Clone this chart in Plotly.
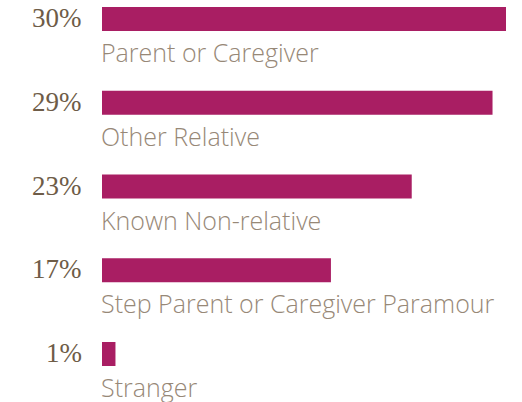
import plotly.graph_objects as go

categories = ["Parent or Caregiver", "Other Relative", "Known Non-relative",
              "Step Parent or Caregiver Paramour", "Stranger"]
values = [30, 29, 23, 17, 1]
pct_labels = [f"{v}%" for v in values]

pos = list(range(len(categories)))
px_per_unit = 83.75
bar_w = 24 / px_per_unit

fig = go.Figure(go.Bar(
    x=values, y=pos, orientation="h", width=bar_w,
    marker=dict(color="#a91e63", line=dict(width=0)),
    hoverinfo="skip",
))

annotations = []
for i, (c, p) in enumerate(zip(categories, pct_labels)):
    annotations.append(dict(
        x=0, y=i + 33 / px_per_unit, xref="x", yref="y", text=c,
        showarrow=False, xanchor="left", yanchor="middle", borderpad=0,
        font=dict(family="Open Sans", size=25, color="#978877", weight=300), xshift=-2,
    ))
    annotations.append(dict(
        x=0, y=i, xref="x", yref="y", text=p,
        showarrow=False, xanchor="right", yanchor="middle", borderpad=0,
        font=dict(family="Liberation Serif", size=27, color="#6e5c47"),
        xshift=-19, yshift=1,
    ))

fig.update_layout(
    width=522, height=402,
    margin=dict(l=102, r=16, t=0, b=0),
    paper_bgcolor="white", plot_bgcolor="white",
    xaxis=dict(range=[0, 30], visible=False, fixedrange=True),
    yaxis=dict(range=[4 + 48 / px_per_unit, -19 / px_per_unit], visible=False, fixedrange=True),
    annotations=annotations,
    showlegend=False,
)

fig.write_html("out.html", config={"displayModeBar": False, "staticPlot": True},
               post_script="document.body.style.margin='0';document.body.style.overflow='hidden';")
